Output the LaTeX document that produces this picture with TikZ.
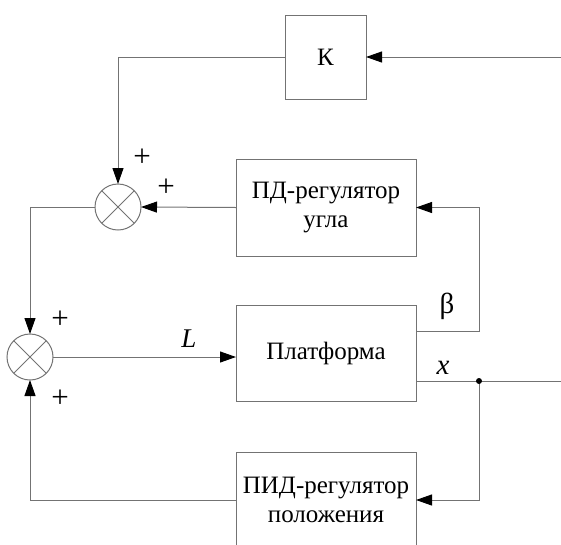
\documentclass[tikz,border=0pt]{standalone}
\usepackage{fontspec}
\setmainfont{Liberation Serif}
\usetikzlibrary{arrows.meta}
\begin{document}
\begin{tikzpicture}[x=1pt,y=-1pt,line width=1pt,
  ln/.style={draw=black!55},
  arr/.style={ln,-{Triangle[length=16pt,width=11pt,fill=black,color=black]}},
  blk/.style={draw=black!55,inner sep=0pt,outer sep=0pt,align=center,
     font=\fontsize{25}{29}\selectfont},
  summer/.style={circle,draw=black!55,minimum size=46pt,inner sep=0pt,outer sep=0pt},
  lbl/.style={font=\fontsize{25}{29}\selectfont,inner sep=0pt},
  plus/.style={font=\fontsize{31}{34}\selectfont,inner sep=0pt}]
\clip (0,0) rectangle (561,544);
\useasboundingbox (0,0) rectangle (561,544);
\node[blk,minimum width=81pt,minimum height=84pt] (K) at (325.5,57) {К};
\node[blk,minimum width=180pt,minimum height=97pt] (PD) at (326,207.5) {ПД-регулятор\\угла};
\node[blk,minimum width=180pt,minimum height=96pt] (PL) at (326,353) {Платформа};
\node[blk,minimum width=180pt,minimum height=96pt] (PID) at (326,500) {ПИД-регулятор\\положения};
\node[summer] (S1) at (118,207) {};
\node[summer] (S2) at (30,357) {};
\foreach \s in {S1,S2}{
  \draw[ln] (\s.north west) -- (\s.south east);
  \draw[ln] (\s.north east) -- (\s.south west);
}
\coordinate (kin) at (561,57);
\coordinate (xout) at (561,381);
\coordinate (J) at (479,381);
\coordinate (B) at (479,331);
\draw[arr] (kin) -- (K.east);
\draw[arr] (K.west) -| (S1.north);
\draw[arr] (PD.west) -- (S1.east);
\draw[arr] (S1.west) -| (S2.north);
\draw[arr] (S2.east) -- (S2.east -| PL.west);
\draw[arr] (B -| PL.east) -- (B) |- (PD.east);
\draw[ln] (J -| PL.east) -- (xout);
\draw[arr] (J) |- (PID.east);
\draw[arr] (PID.west) -| (S2.south);
\fill (J) circle (3pt);
\node[plus] (p1) at (142,158) {+};
\node[plus] (p2) at (166,188) {+};
\node[plus] (p3) at (60,320) {+};
\node[plus] (p4) at (60,399) {+};
\node[lbl,font=\fontsize{27}{30}\selectfont\itshape] (Ll) at (189,339) {L};
\node[lbl,font=\fontsize{29}{32}\selectfont] (bl) at (447,306) {β};
\node[lbl,font=\fontsize{29}{32}\selectfont\itshape] (xl) at (443,368) {x};
\end{tikzpicture}
\end{document}
